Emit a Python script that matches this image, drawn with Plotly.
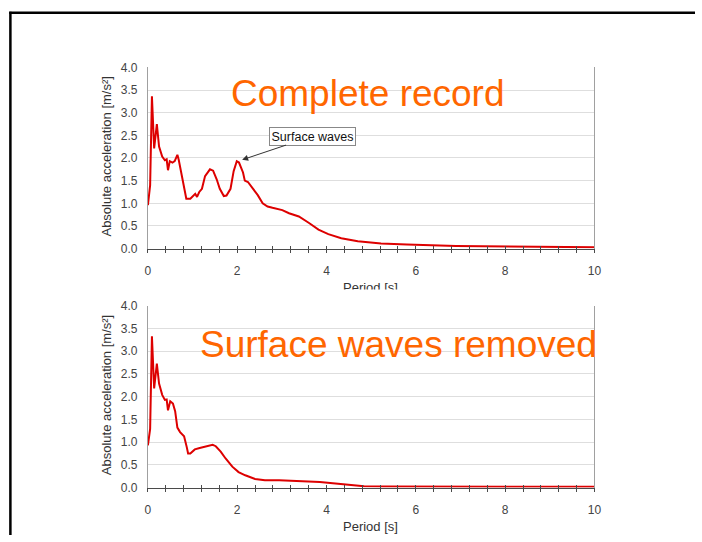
import plotly.graph_objects as go

# ---------------- data ----------------
period_top = [0, 0.03, 0.05, 0.09, 0.14, 0.2, 0.23, 0.25, 0.32, 0.38, 0.42, 0.45, 0.49, 0.55, 0.6,
              0.66, 0.69, 0.77, 0.86, 0.95, 1.06, 1.1, 1.15, 1.21, 1.28, 1.39, 1.46, 1.54, 1.61,
              1.7, 1.76, 1.85, 1.92, 1.99, 2.04, 2.13, 2.17, 2.24, 2.35, 2.46, 2.57, 2.68, 2.79,
              2.9, 3.01, 3.16, 3.38, 3.6, 3.82, 4.04, 4.33, 4.7, 5.22, 5.8, 6.32, 6.9, 7.5, 8.0,
              8.5, 9.0, 9.5, 10.0]
accel_top = [0.96, 1.25, 1.4, 3.36, 2.21, 2.75, 2.47, 2.25, 2.03, 1.95, 1.97, 1.73, 1.93, 1.9, 1.93,
             2.07, 1.96, 1.53, 1.1, 1.1, 1.21, 1.14, 1.25, 1.32, 1.6, 1.75, 1.72, 1.53, 1.32,
             1.16, 1.17, 1.32, 1.71, 1.93, 1.9, 1.68, 1.5, 1.47, 1.32, 1.18, 1.0, 0.93, 0.9,
             0.87, 0.85, 0.78, 0.71, 0.57, 0.42, 0.32, 0.23, 0.16, 0.11, 0.09, 0.07, 0.06, 0.05,
             0.045, 0.04, 0.035, 0.03, 0.03]

period_bot = [0, 0.05, 0.09, 0.14, 0.2, 0.25, 0.32, 0.38, 0.42, 0.45, 0.5, 0.56, 0.61, 0.66, 0.72,
              0.81, 0.87, 0.9, 0.95, 1.05, 1.16, 1.3, 1.45, 1.52, 1.63, 1.74, 1.89, 2.03, 2.18,
              2.4, 2.62, 2.94, 3.3, 3.85, 4.2, 4.46, 4.84, 5.3, 6, 7, 8, 9, 10]
accel_bot = [0.93, 1.29, 3.33, 2.18, 2.73, 2.29, 2.04, 1.93, 1.94, 1.7, 1.9, 1.85, 1.68, 1.32, 1.22,
             1.13, 0.89, 0.75, 0.75, 0.84, 0.87, 0.91, 0.94, 0.91, 0.79, 0.64, 0.46, 0.34, 0.27,
             0.19, 0.16, 0.16, 0.15, 0.12, 0.09, 0.07, 0.03, 0.025, 0.02, 0.02, 0.02, 0.02, 0.02]

x_tick_values = [0, 2, 4, 6, 8, 10]
x_tick_labels = ["0", "2", "4", "6", "8", "10"]
y_tick_values = [0, 0.5, 1, 1.5, 2, 2.5, 3, 3.5, 4]
y_tick_labels = ["0.0", "0.5", "1.0", "1.5", "2.0", "2.5", "3.0", "3.5", "4.0"]

title_top = "Complete record"
title_bot = "Surface waves removed"
x_title = "Period [s]"
y_title = "Absolute acceleration [m/s²]"
callout_text = "Surface waves"
callout_point = (2.11, 1.96)

# ---------------- layout helpers ----------------
W, H = 702, 542
FONT = "Liberation Sans, Arial, sans-serif"
RED = "#dd0000"
ORANGE = "#ff6600"

def px_x(p):
    return p / W

def px_y(p):
    return 1 - p / H

xdom = [px_x(147), px_x(600)]
top_dom = [px_y(248), px_y(62)]
bot_dom = [px_y(493.3), px_y(306.7)]

minor_ticks = [round(i * 0.4, 1) for i in range(26)]
tick_text = []
for v in minor_ticks:
    if float(v).is_integer() and int(v) in x_tick_values:
        tick_text.append(x_tick_labels[x_tick_values.index(int(v))])
    else:
        tick_text.append("")

fig = go.Figure()
fig.add_trace(go.Scatter(x=period_top, y=accel_top, mode="lines",
                         line=dict(color=RED, width=2), xaxis="x", yaxis="y",
                         showlegend=False, hoverinfo="skip"))
fig.add_trace(go.Scatter(x=period_bot, y=accel_bot, mode="lines",
                         line=dict(color=RED, width=2), xaxis="x2", yaxis="y2",
                         showlegend=False, hoverinfo="skip"))

def xaxis_main(anchor):
    return dict(domain=xdom, anchor=anchor, range=[0, 10], showgrid=False, zeroline=False,
                showline=True, linecolor="#4a4a4a", linewidth=1.3,
                ticks="outside", ticklen=3, tickcolor="#4a4a4a", tickwidth=1,
                tickvals=minor_ticks, ticktext=tick_text,
                tickfont=dict(family=FONT, size=12, color="#444444"),
                ticklabelstandoff=8, fixedrange=True)

def xaxis_inner(overlay, anchor):
    return dict(domain=xdom, anchor=anchor, overlaying=overlay, range=[0, 10],
                showgrid=False, zeroline=False, showline=False,
                ticks="inside", ticklen=3, tickcolor="#4a4a4a", tickwidth=1,
                tickvals=minor_ticks, showticklabels=False, fixedrange=True)

def yaxis(dom, anchor):
    return dict(domain=dom, anchor=anchor, range=[0, 4], tickvals=y_tick_values,
                ticktext=y_tick_labels, showgrid=True, gridcolor="#dedede", gridwidth=1,
                zeroline=False, showline=True, mirror=True, linecolor="#a0a0a0", linewidth=1,
                ticks="", tickfont=dict(family=FONT, size=12, color="#444444"),
                ticklabelstandoff=7, fixedrange=True)

fig.update_layout(
    width=W, height=H, margin=dict(l=0, r=0, t=0, b=0),
    paper_bgcolor="white", plot_bgcolor="white",
    xaxis=xaxis_main("y"), yaxis=yaxis(top_dom, "x"),
    xaxis2=xaxis_main("y2"), yaxis2=yaxis(bot_dom, "x2"),
    xaxis3=xaxis_inner("x", "y"), xaxis4=xaxis_inner("x2", "y2"),
)
# invisible traces so the overlay tick axes render
fig.add_trace(go.Scatter(x=[0], y=[0], xaxis="x3", yaxis="y", mode="markers",
                         marker=dict(opacity=0), showlegend=False, hoverinfo="skip"))
fig.add_trace(go.Scatter(x=[0], y=[0], xaxis="x4", yaxis="y2", mode="markers",
                         marker=dict(opacity=0), showlegend=False, hoverinfo="skip"))

def paper_text(text, x, y, size, color, angle=0):
    return dict(text=text, x=px_x(x), y=px_y(y), xref="paper", yref="paper",
                xanchor="center", yanchor="middle", showarrow=False, textangle=angle,
                font=dict(family=FONT, size=size, color=color))

annotations = [
    paper_text(title_top, 370, 89, 37, ORANGE),
    paper_text(title_bot, 401.5, 346, 37, ORANGE),
    paper_text(y_title, 105, 154, 13, "#333333", -90),
    paper_text(y_title, 105, 399, 13, "#333333", -90),
    paper_text(x_title, 373, 533, 13, "#333333"),
    paper_text(x_title, 373, 288, 13, "#333333"),
    # white cover hiding the lower half of the upper "Period [s]"
    dict(text=" ", x=px_x(373), y=px_y(289), xref="paper", yref="paper",
         xanchor="center", yanchor="top",
         showarrow=False, width=120, height=14, bgcolor="white", borderpad=0),
    dict(text=callout_text, x=callout_point[0], y=callout_point[1], xref="x", yref="y",
         ax=70.8, ay=-23.7, showarrow=True, arrowhead=2, arrowsize=1.2, arrowwidth=1,
         arrowcolor="#333333", bordercolor="#888888", borderwidth=1, borderpad=1.5,
         bgcolor="white", font=dict(family=FONT, size=12.5, color="#111111")),
]
fig.update_layout(annotations=annotations)

fig.update_layout(shapes=[
    dict(type="line", xref="paper", yref="paper", x0=px_x(7.5), x1=px_x(7.5),
         y0=0, y1=px_y(5), line=dict(color="black", width=2.5)),
    dict(type="line", xref="paper", yref="paper", x0=px_x(6.3), x1=1,
         y0=px_y(6), y1=px_y(6), line=dict(color="black", width=2.5)),
])

fig.write_html("out.html")
